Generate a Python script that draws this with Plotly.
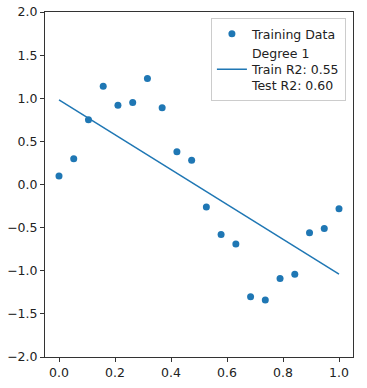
import numpy as np
import plotly.graph_objects as go

x_train = [0.0, 0.0526, 0.1053, 0.1579, 0.2105, 0.2632, 0.3158, 0.3684, 0.4211, 0.4737,
           0.5263, 0.5789, 0.6316, 0.6842, 0.7368, 0.7895, 0.8421, 0.8947, 0.9474, 1.0]
y_train = [0.10, 0.30, 0.75, 1.14, 0.92, 0.95, 1.23, 0.89, 0.38, 0.28,
           -0.26, -0.58, -0.69, -1.30, -1.34, -1.09, -1.04, -0.56, -0.51, -0.28]
x_fit = [0.0, 1.0]
y_fit = [0.98, -1.04]

x_ticks = [0.0, 0.2, 0.4, 0.6, 0.8, 1.0]
y_ticks = [-2.0, -1.5, -1.0, -0.5, 0.0, 0.5, 1.0, 1.5, 2.0]

blue = "#1f77b4"
fs = 12.5
fig = go.Figure()
fig.add_trace(go.Scatter(x=x_train, y=y_train, mode="markers", name="Training Data",
                         marker=dict(color=blue, size=7, line=dict(width=0))))
fig.add_trace(go.Scatter(x=x_fit, y=y_fit, mode="lines",
                         name="Degree 1<br>Train R2: 0.55<br>Test R2: 0.60",
                         line=dict(color=blue, width=1.5)))

axis_common = dict(showgrid=False, zeroline=False, showline=True, linecolor="#333333",
                   linewidth=1, mirror=True, ticks="outside", ticklen=4, tickwidth=1,
                   tickcolor="#333333", automargin=False, ticklabeloverflow="allow",
                   tickfont=dict(family="DejaVu Sans", size=fs, color="#222222"))
fig.update_xaxes(range=[-0.05, 1.05], tickvals=x_ticks,
                 ticktext=[f"{v:.1f}" for v in x_ticks], **axis_common)
fig.update_yaxes(range=[-2.0, 2.0], tickvals=y_ticks,
                 ticktext=[f"{v:.1f}".replace("-", "\u2212") for v in y_ticks], **axis_common)

fig.update_layout(
    width=367, height=388,
    margin=dict(l=45, r=14, t=12, b=31),
    plot_bgcolor="white", paper_bgcolor="white",
    font=dict(family="DejaVu Sans", size=fs, color="#222222"),
    showlegend=True,
    legend=dict(x=0.977, y=0.982, xanchor="right", yanchor="top",
                bgcolor="rgba(255,255,255,0.8)", bordercolor="#cccccc", borderwidth=1,
                font=dict(family="DejaVu Sans", size=fs, color="#222222"),
                tracegroupgap=0, itemwidth=30),
)

# remove the browser's default 8px body margin so the figure fills the window
fig.write_html("out.html", config={"displayModeBar": False},
               post_script="document.body.style.margin='0';")
